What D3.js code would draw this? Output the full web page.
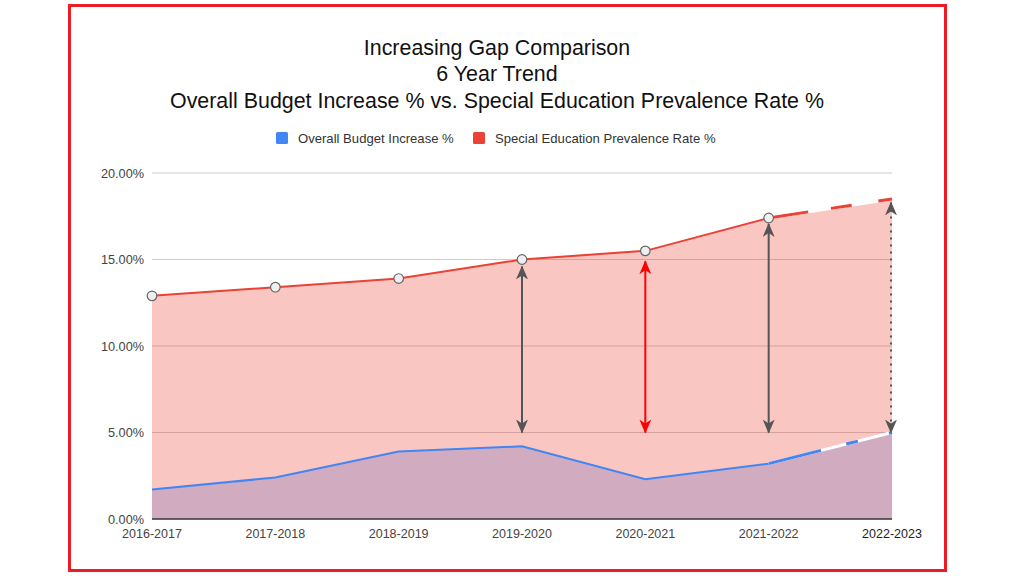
<!DOCTYPE html>
<html><head><meta charset="utf-8">
<script src="https://cdn.jsdelivr.net/npm/d3@7"></script>
<style>body{margin:0;background:#fff;}svg{display:block;font-family:"Liberation Sans",Arial,sans-serif;}</style>
</head><body>
<svg id="c" width="1024" height="576"></svg>
<script>
const years = ["2016-2017","2017-2018","2018-2019","2019-2020","2020-2021","2021-2022","2022-2023"];
const budget = [1.7, 2.4, 3.9, 4.2, 2.3, 3.2, 5.0];
const prevalence = [12.9, 13.4, 13.9, 15.0, 15.5, 17.4, 18.5];
const yTicks = [0, 5, 10, 15, 20];
const titleLines = ["Increasing Gap Comparison","6 Year Trend","Overall Budget Increase % vs. Special Education Prevalence Rate %"];
const seriesNames = ["Overall Budget Increase %","Special Education Prevalence Rate %"];
const arrowYears = ["2019-2020","2020-2021","2021-2022","2022-2023"];
const arrowTop = [14.6, 14.9, 17.05, 18.3];
const arrowBottom = [5.0, 5.0, 5.0, 5.0];
const arrowKinds = ["gray","red","gray","dotted"];

const svg = d3.select("#c");
const blue = "#4285f4", red = "#ea4335";

// border
svg.append("rect").attr("x",69.5).attr("y",5.5).attr("width",876).attr("height",565)
  .attr("fill","none").attr("stroke","#ec1c24").attr("stroke-width",3);

const x = d3.scalePoint().domain(years).range([152, 892]);
const y = d3.scaleLinear().domain([0, 20]).range([519, 173]);

// title
svg.append("g").selectAll("text").data(titleLines).join("text")
  .attr("x",497).attr("y",(d,i)=>54.5+i*26.5).attr("text-anchor","middle")
  .attr("font-size",21.4).attr("fill","#111").text(d=>d);

// legend
const lg = svg.append("g");
const legendX = [276, 473];
seriesNames.forEach((n,i)=>{
  lg.append("rect").attr("x",legendX[i]).attr("y",132).attr("width",12).attr("height",12).attr("rx",1.5)
    .attr("fill",i===0?blue:red);
  lg.append("text").attr("x",legendX[i]+22).attr("y",143).attr("font-size",13.1).attr("fill","#333").text(n);
});

// gridlines
svg.append("g").selectAll("line").data(yTicks.filter(t=>t>0)).join("line")
  .attr("x1",152).attr("x2",892).attr("y1",d=>y(d)).attr("y2",d=>y(d))
  .attr("stroke","#cccccc").attr("stroke-width",1);

// y labels
svg.append("g").selectAll("text").data(yTicks).join("text")
  .attr("x",144).attr("y",d=>y(d)+4.5).attr("text-anchor","end")
  .attr("font-size",12.7).attr("fill","#444").text(d=>d.toFixed(2)+"%");

// areas
const area = vals => d3.area().x((d,i)=>x(years[i])).y0(y(0)).y1(d=>y(d))(vals);
svg.append("path").attr("d",area(budget)).attr("fill",blue).attr("fill-opacity",0.3);
svg.append("path").attr("d",area(prevalence)).attr("fill",red).attr("fill-opacity",0.3);

// baseline
svg.append("line").attr("x1",152).attr("x2",892).attr("y1",y(0)).attr("y2",y(0))
  .attr("stroke","#333").attr("stroke-width",1.5);

// lines: solid part (first 6 points) and dashed projected last segment
const line = d3.line().x(d=>x(d[0])).y(d=>y(d[1]));
function drawSeries(vals, color, dash){
  const pts = vals.map((v,i)=>[years[i],v]);
  svg.append("path").attr("d",line(pts.slice(0,6))).attr("fill","none").attr("stroke",color).attr("stroke-width",2);
  const last = pts.slice(5);
  svg.append("path").attr("d",line(last)).attr("fill","none").attr("stroke","#fff").attr("stroke-width",3);
  svg.append("path").attr("d",line(last)).attr("fill","none").attr("stroke",color).attr("stroke-width",3)
    .attr("stroke-dasharray",dash);
}
drawSeries(budget, blue, "54 26 12 32 10");
drawSeries(prevalence, red, "40 23 21 27 20");

// points on prevalence
svg.append("g").selectAll("circle").data(prevalence.slice(0,6)).join("circle")
  .attr("cx",(d,i)=>x(years[i])).attr("cy",d=>y(d)).attr("r",4.8)
  .attr("fill","#efefef").attr("stroke","#666").attr("stroke-width",1.2);

// arrows
const defs = svg.append("defs");
[["gray","#555"],["red","#ff0000"],["dotted","#555"]].forEach(([k,c])=>{
  defs.append("marker").attr("id","ah-"+k).attr("viewBox","0 0 14 12").attr("refX",13).attr("refY",6)
    .attr("markerWidth",14).attr("markerHeight",12).attr("markerUnits","userSpaceOnUse").attr("orient","auto-start-reverse")
    .append("path").attr("d","M0,0 L14,6 L0,12 L4,6 Z").attr("fill",c);
});
arrowYears.forEach((yr,i)=>{
  const k = arrowKinds[i];
  const c = k==="red" ? "#ff0000" : "#555";
  const xx = x(yr) - (k==="dotted"?1:0);
  svg.append("line").attr("x1",xx).attr("x2",xx).attr("y1",y(arrowTop[i])).attr("y2",y(arrowBottom[i]))
    .attr("stroke",c).attr("stroke-width",2)
    .attr("stroke-dasharray",k==="dotted"?"2 5":null)
    .attr("marker-start","url(#ah-"+k+")").attr("marker-end","url(#ah-"+k+")");
});

// x labels
svg.append("g").selectAll("text").data(years).join("text")
  .attr("x",d=>x(d)).attr("y",538).attr("text-anchor","middle")
  .attr("font-size",12.5).attr("fill",(d,i)=>i===6?"#222":"#444").text(d=>d);
</script>
</body></html>
